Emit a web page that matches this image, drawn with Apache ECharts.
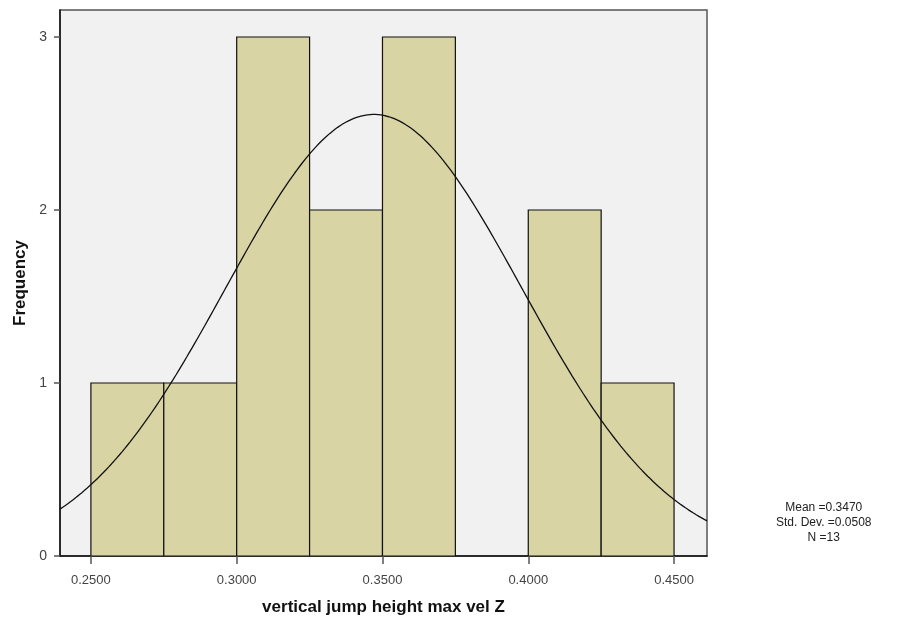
<!DOCTYPE html>
<html>
<head>
<meta charset="utf-8">
<script src="https://cdn.jsdelivr.net/npm/echarts@6/dist/echarts.min.js"></script>
<style>
  html, body { margin: 0; padding: 0; background: #fff; }
  #chart { width: 899px; height: 623px; }
</style>
</head>
<body>
<div id="chart"></div>
<script>
// Histogram bins (lower edge, upper edge) and their counts
const binStarts = [0.250, 0.275, 0.300, 0.325, 0.350, 0.375, 0.400, 0.425];
const binWidth = 0.025;
const counts = [1, 1, 3, 2, 3, 0, 2, 1];

// Summary statistics shown beside the plot
const statMean = 0.3470;
const statSd = 0.0508;
const statN = 13;

// Axis tick values
const xTicks = [0.25, 0.30, 0.35, 0.40, 0.45];
const yTicks = [0, 1, 2, 3];

const xMin = 0.2394, xMax = 0.4613;
const yMin = 0, yMax = 3.156;

// Fitted normal curve scaled to frequency units (N * bin width * density)
const curve = [];
const steps = 240;
for (let i = 0; i <= steps; i++) {
  const x = xMin + (xMax - xMin) * i / steps;
  const z = (x - statMean) / statSd;
  const y = statN * binWidth * Math.exp(-0.5 * z * z) / (statSd * Math.sqrt(2 * Math.PI));
  curve.push([x, y]);
}

const barData = binStarts.map((s, i) => [s, s + binWidth, counts[i]]);

const chart = echarts.init(document.getElementById('chart'), null, { renderer: 'canvas' });
const fontFamily = 'Liberation Sans, Arial, sans-serif';
const labelFont = { color: '#444', fontSize: 13, fontFamily: fontFamily };

chart.setOption({
  animation: false,
  backgroundColor: '#ffffff',
  grid: {
    left: 60, top: 10, right: 192, bottom: 67,
    outerBoundsMode: 'none',
    containLabel: false,
    show: true, backgroundColor: '#f1f1f1',
    borderColor: '#555', borderWidth: 1.5
  },
  xAxis: {
    type: 'value', min: xMin, max: xMax,
    name: 'vertical jump height max vel Z',
    nameLocation: 'middle', nameGap: 43,
    nameTextStyle: { color: '#111', fontSize: 17, fontWeight: 'bold', fontFamily: fontFamily },
    splitLine: { show: false },
    axisLine: { show: true, lineStyle: { color: '#111', width: 1.5 } },
    axisTick: { show: true, length: 8, customValues: xTicks, lineStyle: { color: '#555', width: 1.5 } },
    axisLabel: Object.assign({ customValues: xTicks, margin: 18, formatter: v => v.toFixed(4) }, labelFont)
  },
  yAxis: {
    type: 'value', min: yMin, max: yMax,
    name: 'Frequency',
    nameLocation: 'middle', nameGap: 31,
    nameTextStyle: { color: '#111', fontSize: 17, fontWeight: 'bold', fontFamily: fontFamily },
    splitLine: { show: false },
    axisLine: { show: true, lineStyle: { color: '#111', width: 1.5 } },
    axisTick: { show: true, length: 6, customValues: yTicks, lineStyle: { color: '#555', width: 1.5 } },
    axisLabel: Object.assign({ customValues: yTicks, margin: 13 }, labelFont, { fontSize: 14 })
  },
  graphic: [{
    type: 'text',
    left: 776, top: 500,
    style: {
      text: 'Mean =' + statMean.toFixed(4) + '\nStd. Dev. =' + statSd.toFixed(4) + '\nN =' + statN,
      textAlign: 'center',
      x: 50,
      fill: '#222', fontSize: 12, lineHeight: 15,
      fontFamily: fontFamily
    }
  }],
  series: [
    {
      type: 'custom',
      data: barData,
      encode: { x: [0, 1], y: 2 },
      clip: true,
      renderItem: function (params, api) {
        const p0 = api.coord([api.value(0), 0]);
        const p1 = api.coord([api.value(1), api.value(2)]);
        if (api.value(2) <= 0) return null;
        return {
          type: 'rect',
          shape: { x: p0[0], y: p1[1], width: p1[0] - p0[0], height: p0[1] - p1[1] },
          style: { fill: '#d9d4a3', stroke: '#111', lineWidth: 1.2 }
        };
      },
      z: 2
    },
    {
      type: 'line',
      data: curve,
      showSymbol: false,
      smooth: false,
      clip: true,
      lineStyle: { color: '#111', width: 1.3 },
      z: 3
    }
  ]
});
</script>
</body>
</html>
